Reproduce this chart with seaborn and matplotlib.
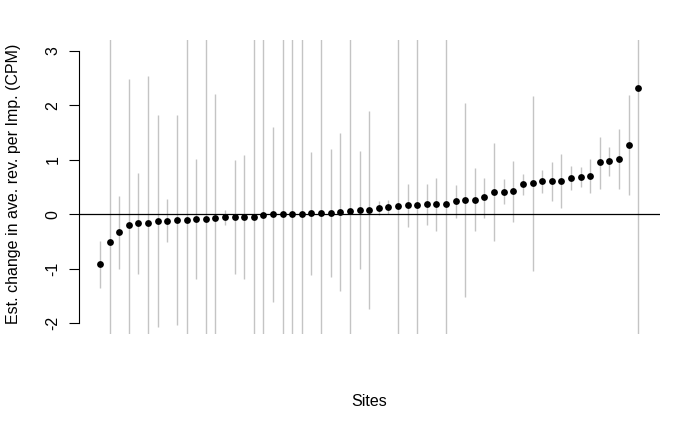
import numpy as np
import pandas as pd
import matplotlib
matplotlib.use("Agg")
import matplotlib.pyplot as plt
import seaborn as sns

# Estimated change per site (sorted), with lower / upper interval bounds
estimate = [-0.917, -0.50, -0.33, -0.196, -0.165, -0.153, -0.128, -0.122, -0.11, -0.098,
            -0.086, -0.086, -0.073, -0.055, -0.05, -0.05, -0.043, -0.006, 0.006, 0.006,
            0.006, 0.012, 0.018, 0.018, 0.024, 0.049, 0.067, 0.08, 0.086, 0.122,
            0.128, 0.147, 0.165, 0.165, 0.183, 0.19, 0.196, 0.239, 0.269, 0.269,
            0.312, 0.41, 0.416, 0.422, 0.557, 0.569, 0.606, 0.606, 0.618, 0.673,
            0.691, 0.703, 0.954, 0.972, 1.015, 1.278, 2.312]
lower = [-1.346, -3.5, -0.997, -3.5, -1.10, -3.5, -2.073, -0.514, -2.037, -3.5,
         -1.187, -3.5, -3.5, -0.19, -1.095, -1.18, -3.5, -3.5, -1.602, -3.5,
         -3.5, -3.5, -1.119, -3.5, -1.156, -1.407, -3.5, -1.009, -1.737, -0.018,
         0.012, -3.5, -0.226, -3.5, -0.196, -0.30, -3.5, -0.061, -1.511, -0.312,
         -0.061, -0.483, 0.19, -0.135, 0.361, -1.04, 0.398, 0.251, 0.122, 0.44,
         0.508, 0.391, 0.471, 0.703, 0.471, 0.361, -3.5]
upper = [-0.483, 4.5, 0.343, 2.483, 0.758, 2.538, 1.817, 0.275, 1.817, 4.5,
         1.015, 4.5, 2.202, 0.08, 0.997, 1.089, 4.5, 4.5, 1.596, 4.5,
         4.5, 4.5, 1.138, 4.5, 1.199, 1.486, 4.5, 1.156, 1.896, 0.245,
         0.263, 4.5, 0.55, 4.5, 0.563, 0.667, 4.5, 0.532, 2.049, 0.85,
         0.667, 1.303, 0.648, 0.979, 0.74, 2.177, 0.813, 0.96, 1.107, 0.887,
         0.869, 1.009, 1.425, 1.235, 1.566, 2.196, 4.5]
sites = list(range(1, len(estimate) + 1))
yticks = [-2, -1, 0, 1, 2, 3]

df = pd.DataFrame({"site": sites, "est": estimate, "lo": lower, "hi": upper})

sns.set_style("white")
plt.rcParams['font.family'] = ['Liberation Sans', 'DejaVu Sans']
plt.rcParams['text.color'] = 'black'
plt.rcParams['axes.labelcolor'] = 'black'
plt.rcParams['ytick.color'] = 'black'
plt.rcParams['xtick.color'] = 'black'

fig = plt.figure(figsize=(7.0, 4.32), dpi=100)
ax = fig.add_axes([78.5 / 700, 1 - 334.2 / 432, 581.3 / 700, 294.3 / 432])

ax.vlines(df["site"], df["lo"], df["hi"], color="#c4c4c4", lw=1.0, zorder=1)
ax.axhline(0, color="black", lw=0.9, zorder=2)
sns.scatterplot(data=df, x="site", y="est", ax=ax, color="black", s=24,
                edgecolor="black", linewidth=0, zorder=3, legend=False)

n = len(sites)
ax.set_xlim(1 - 0.04 * (n - 1), n + 0.04 * (n - 1))
ax.set_ylim(-2.2, 3.2)

for s in ["top", "right", "bottom"]:
    ax.spines[s].set_visible(False)
ax.spines["left"].set_bounds(-2, 3)
ax.spines["left"].set_color("black")
ax.spines["left"].set_linewidth(0.8)

ax.set_xticks([])
ax.set_yticks(yticks)
ax.set_yticklabels([str(t) for t in yticks], rotation=90, va="center", fontsize=11.5,
                   color="black")
ax.tick_params(axis="y", direction="out", length=7, width=0.8, pad=6, left=True,
               color="black", labelcolor="black")
ax.set_xlabel("")
ax.set_ylabel("")

fig.text(14 / 700, 1 - 184 / 432, "Est. change in ave. rev. per Imp. (CPM)",
         rotation=90, ha="center", va="center", fontsize=11.5, color="black")
fig.text(369 / 700, 1 - 401 / 432, "Sites", ha="center", va="center", fontsize=11.5,
         color="black")

fig.savefig("out.png", dpi=100, facecolor="white")
